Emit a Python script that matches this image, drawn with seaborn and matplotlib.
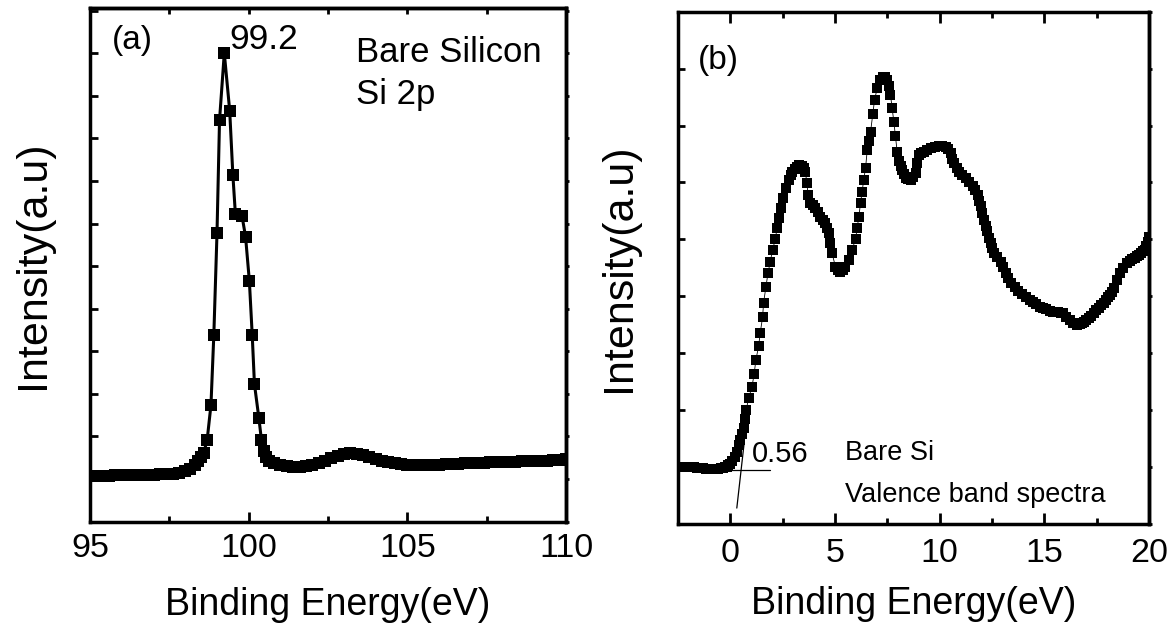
import numpy as np
import pandas as pd
import matplotlib
matplotlib.use("Agg")
import matplotlib.pyplot as plt
import seaborn as sns
from matplotlib.ticker import MultipleLocator, NullFormatter

# ---------------- data ----------------
si2p_energy = [95.0, 95.2, 95.4, 95.6, 95.8, 96.0, 96.2, 96.4, 96.6, 96.8, 97.0, 97.2, 97.4,
               97.6, 97.8, 98.0, 98.15, 98.3, 98.4, 98.5, 98.58, 98.69, 98.81, 98.90, 99.00,
               99.08, 99.23, 99.40, 99.50, 99.58, 99.79, 99.90, 100.02, 100.11, 100.18, 100.32,
               100.40, 100.47, 100.55, 100.65, 100.8, 101.0, 101.2, 101.4, 101.6, 101.8, 102.0,
               102.2, 102.4, 102.6, 102.8, 103.0, 103.2, 103.4, 103.6, 103.8, 104.0, 104.2,
               104.4, 104.6, 104.8, 105.0, 105.2, 105.4, 105.6, 105.8, 106.0, 106.2, 106.4,
               106.6, 106.8, 107.0, 107.2, 107.4, 107.6, 107.8, 108.0, 108.2, 108.4, 108.6,
               108.8, 109.0, 109.2, 109.4, 109.6, 109.8, 110.0]
si2p_intensity = [1.08, 1.08, 1.08, 1.08, 1.09, 1.09, 1.09, 1.09, 1.10, 1.10, 1.10, 1.11, 1.11,
                  1.12, 1.14, 1.18, 1.24, 1.32, 1.42, 1.53, 1.61, 1.92, 2.74, 4.38, 6.77,
                  9.43, 11.0, 9.65, 8.14, 7.22, 7.17, 6.69, 5.65, 4.38, 3.23, 2.43,
                  1.92, 1.65, 1.52, 1.43, 1.37, 1.32, 1.30, 1.29, 1.29, 1.30, 1.33,
                  1.38, 1.43, 1.49, 1.55, 1.59, 1.61, 1.60, 1.56, 1.51, 1.47, 1.43,
                  1.40, 1.38, 1.36, 1.34, 1.33, 1.33, 1.33, 1.34, 1.34, 1.35, 1.35,
                  1.36, 1.37, 1.37, 1.38, 1.38, 1.39, 1.39, 1.40, 1.41, 1.41, 1.42,
                  1.42, 1.43, 1.43, 1.43, 1.44, 1.45, 1.46]

vb_energy = [-2.5, -2.35, -2.2, -2.05, -1.9, -1.75, -1.6, -1.45, -1.3, -1.15, -1.0, -0.85,
             -0.7, -0.58, -0.45, -0.35, -0.25, -0.17, -0.1, 0.0, 0.07, 0.2, 0.31,
             0.4, 0.47, 0.55, 0.63, 0.70, 0.76, 0.87, 1.03, 1.14, 1.22, 1.35, 1.43, 1.54,
             1.59, 1.70, 1.80, 1.91, 2.02, 2.15, 2.23, 2.34, 2.43, 2.54, 2.66, 2.78, 2.88,
             2.97, 3.08, 3.18, 3.30, 3.42, 3.52, 3.58, 3.66, 3.71, 3.82, 3.94, 4.06, 4.18,
             4.30, 4.42, 4.54, 4.62, 4.70, 4.78, 4.86, 5.02, 5.14, 5.26, 5.38, 5.50, 5.66,
             5.82, 5.98, 6.06, 6.14, 6.22, 6.30, 6.37, 6.46, 6.54, 6.62, 6.70,
             6.81, 6.89, 7.02, 7.17, 7.28, 7.38, 7.48, 7.57, 7.65, 7.73, 7.81, 7.89, 7.97,
             8.05, 8.13, 8.21, 8.29, 8.37, 8.49, 8.61, 8.73, 8.85, 8.93, 9.01, 9.13, 9.25,
             9.41, 9.57, 9.77, 9.97, 10.13, 10.29, 10.41, 10.53, 10.61, 10.69, 10.81, 10.93,
             11.09, 11.25, 11.41, 11.57, 11.69, 11.81, 11.89, 11.96, 12.04, 12.12, 12.20,
             12.28, 12.36, 12.44, 12.52, 12.60, 12.76, 12.92, 13.04, 13.16, 13.28, 13.40,
             13.58, 13.75, 13.95, 14.14, 14.30, 14.45, 14.62, 14.78, 14.94, 15.10, 15.26,
             15.42, 15.55, 15.65, 15.78, 15.90, 16.05, 16.21, 16.39, 16.57, 16.69, 16.80,
             16.90, 17.01, 17.13, 17.25, 17.37, 17.49, 17.60, 17.70, 17.84, 17.97, 18.06,
             18.15, 18.25, 18.35, 18.48, 18.61, 18.77, 18.93, 19.07, 19.20, 19.31, 19.41,
             19.52, 19.62, 19.72, 19.81, 19.88, 19.93, 20.00]
vb_intensity = [1.00, 1.00, 1.00, 1.00, 1.00, 1.00, 0.99, 0.99, 0.98, 0.97, 0.97, 0.97,
                0.97, 0.97, 0.98, 0.99, 1.00, 1.01, 1.03, 1.06, 1.10, 1.18, 1.27,
                1.38, 1.48, 1.58, 1.68, 1.84, 2.00, 2.21, 2.40, 2.64, 2.88, 3.12, 3.36, 3.63,
                3.89, 4.16, 4.41, 4.61, 4.82, 5.00, 5.20, 5.37, 5.55, 5.72, 5.90, 6.05, 6.13,
                6.19, 6.24, 6.28, 6.30, 6.29, 6.25, 6.19, 5.99, 5.78, 5.64, 5.60, 5.55, 5.48,
                5.40, 5.34, 5.28, 5.20, 5.11, 4.93, 4.76, 4.52, 4.46, 4.43, 4.46, 4.52, 4.64,
                4.82, 5.00, 5.20, 5.40, 5.64, 5.84, 6.05, 6.25, 6.57, 6.73, 6.89,
                7.21, 7.45, 7.66, 7.80, 7.85, 7.86, 7.80, 7.69, 7.54, 7.31, 7.07, 6.81, 6.54,
                6.37, 6.29, 6.22, 6.15, 6.08, 6.06, 6.05, 6.09, 6.16, 6.34, 6.49, 6.52, 6.54,
                6.57, 6.60, 6.63, 6.64, 6.64, 6.63, 6.58, 6.51, 6.42, 6.34, 6.26, 6.19,
                6.13, 6.08, 6.01, 5.93, 5.86, 5.78, 5.68, 5.58, 5.46, 5.34, 5.24,
                5.14, 5.03, 4.93, 4.84, 4.76, 4.69, 4.61, 4.51, 4.41, 4.32, 4.23,
                4.16, 4.10, 4.04, 3.99, 3.94, 3.90, 3.86, 3.82, 3.79, 3.77, 3.75,
                3.73, 3.72, 3.72, 3.71, 3.70, 3.64, 3.58, 3.53, 3.50, 3.51, 3.53,
                3.55, 3.58, 3.62, 3.66, 3.71, 3.76, 3.80, 3.84, 3.89, 3.94, 3.98,
                4.03, 4.08, 4.14, 4.28, 4.41, 4.50, 4.58, 4.62, 4.65, 4.68, 4.70,
                4.73, 4.76, 4.79, 4.82, 4.89, 4.96, 5.05]

# valence band onset construction lines
baseline_energy = [-0.3, 1.9]
baseline_intensity = [0.94, 0.94]
tangent_energy = [0.31, 0.66]
tangent_intensity = [0.28, 1.42]

xticks_a = [95, 100, 105, 110]
xticks_b = [0, 5, 10, 15, 20]

# ---------------- style ----------------
sns.set_theme(style="ticks")
plt.rcParams['font.family'] = ['Liberation Sans', 'DejaVu Sans']
plt.rcParams['axes.linewidth'] = 2.5
for key in ("text.color", "axes.labelcolor", "xtick.color", "ytick.color", "axes.edgecolor"):
    plt.rcParams[key] = "black"

fig = plt.figure(figsize=(11.74, 6.28), dpi=100)
ax1 = fig.add_axes([0.0767, 0.1693, 0.4055, 0.818])
ax2 = fig.add_axes([0.5775, 0.1656, 0.4012, 0.8158])

df_a = pd.DataFrame({"Binding Energy": si2p_energy, "Intensity": si2p_intensity})
df_b = pd.DataFrame({"Binding Energy": vb_energy, "Intensity": vb_intensity})

sns.lineplot(data=df_a, x="Binding Energy", y="Intensity", ax=ax1, sort=False,
             estimator=None, color="black", lw=2.2, marker="s", markersize=8.8,
             markeredgewidth=0, markerfacecolor="black", zorder=3)

ax2.plot(baseline_energy, baseline_intensity, color="black", lw=0.9, zorder=2)
ax2.plot(tangent_energy, tangent_intensity, color="black", lw=0.9, zorder=2)
sns.lineplot(data=df_b, x="Binding Energy", y="Intensity", ax=ax2, sort=False,
             estimator=None, color="black", lw=0.6, marker="s", markersize=7.3,
             markeredgewidth=0, markerfacecolor="black", zorder=3)

# ---------------- axes (a) ----------------
ax1.set_xlim(95, 110)
ax1.set_ylim(0, 12.06)
ax1.set_xticks(xticks_a)
ax1.set_xticklabels([str(t) for t in xticks_a])
ax1.xaxis.set_minor_locator(MultipleLocator(2.5))
ax1.yaxis.set_major_locator(MultipleLocator(1))
ax1.yaxis.set_major_formatter(NullFormatter())
ax1.tick_params(axis="x", which="major", direction="in", length=7.5, width=2,
                labelsize=24.5, pad=8, top=False)
ax1.tick_params(axis="x", which="minor", direction="in", length=4, width=2, top=False)
ax1.tick_params(axis="y", which="major", direction="in", length=6, width=2, right=False)
sec_top = ax1.secondary_xaxis("top")
sec_top.set_xticks(xticks_a)
sec_top.xaxis.set_minor_locator(MultipleLocator(2.5))
sec_top.tick_params(axis="x", which="both", direction="in", length=4, width=2,
                    labeltop=False)
sec_r = ax1.secondary_yaxis("right")
sec_r.yaxis.set_major_locator(MultipleLocator(1))
sec_r.tick_params(axis="y", direction="out", length=2.5, width=2, labelright=False)
for sp in list(sec_top.spines.values()) + list(sec_r.spines.values()):
    sp.set_linewidth(2.5)

ax1.set_xlabel("Binding Energy(eV)", fontsize=27, labelpad=17)
ax1.set_ylabel("Intensity(a.u)", fontsize=31)
ax1.yaxis.set_label_coords(-0.078, 0.5)

ax1.text(95.69, 11.1, "(a)", fontsize=24, ha="left", va="baseline")
ax1.text(99.39, 11.1, "99.2", fontsize=25.5, ha="left", va="baseline")
ax1.text(103.37, 10.8, "Bare Silicon", fontsize=25, ha="left", va="baseline")
ax1.text(103.37, 9.8, "Si 2p", fontsize=25, ha="left", va="baseline")

# ---------------- axes (b) ----------------
ax2.set_xlim(-2.5, 20)
ax2.set_ylim(0, 9)
ax2.set_xticks(xticks_b)
ax2.set_xticklabels([str(t) for t in xticks_b])
ax2.xaxis.set_minor_locator(MultipleLocator(2.5))
ax2.yaxis.set_major_locator(MultipleLocator(1))
ax2.yaxis.set_major_formatter(NullFormatter())
ax2.tick_params(axis="x", which="major", direction="in", length=8, width=2,
                labelsize=24.5, pad=10, top=True)
ax2.tick_params(axis="x", which="minor", direction="in", length=4, width=2, top=True)
ax2.tick_params(axis="y", which="major", direction="in", length=5, width=2, right=False)
sec_r2 = ax2.secondary_yaxis("right")
sec_r2.yaxis.set_major_locator(MultipleLocator(1))
sec_r2.tick_params(axis="y", direction="out", length=2.5, width=2, labelright=False)
for sp in sec_r2.spines.values():
    sp.set_linewidth(2.5)

ax2.set_xlabel("Binding Energy(eV)", fontsize=27, labelpad=12.5)
ax2.set_ylabel("Intensity(a.u)", fontsize=31)
ax2.yaxis.set_label_coords(-0.082, 0.5)

ax2.text(-1.53, 8.0, "(b)", fontsize=24, ha="left", va="baseline")
ax2.text(1.03, 1.09, "0.56", fontsize=21, ha="left", va="baseline")
ax2.text(5.5, 1.12, "Bare Si", fontsize=19.5, ha="left", va="baseline")
ax2.text(5.5, 0.39, "Valence band spectra", fontsize=19.5, ha="left", va="baseline")

for ax in (ax1, ax2):
    for sp in ax.spines.values():
        sp.set_visible(True)
        sp.set_linewidth(2.5)
        sp.set_color("black")

fig.savefig("out.png", dpi=100)
